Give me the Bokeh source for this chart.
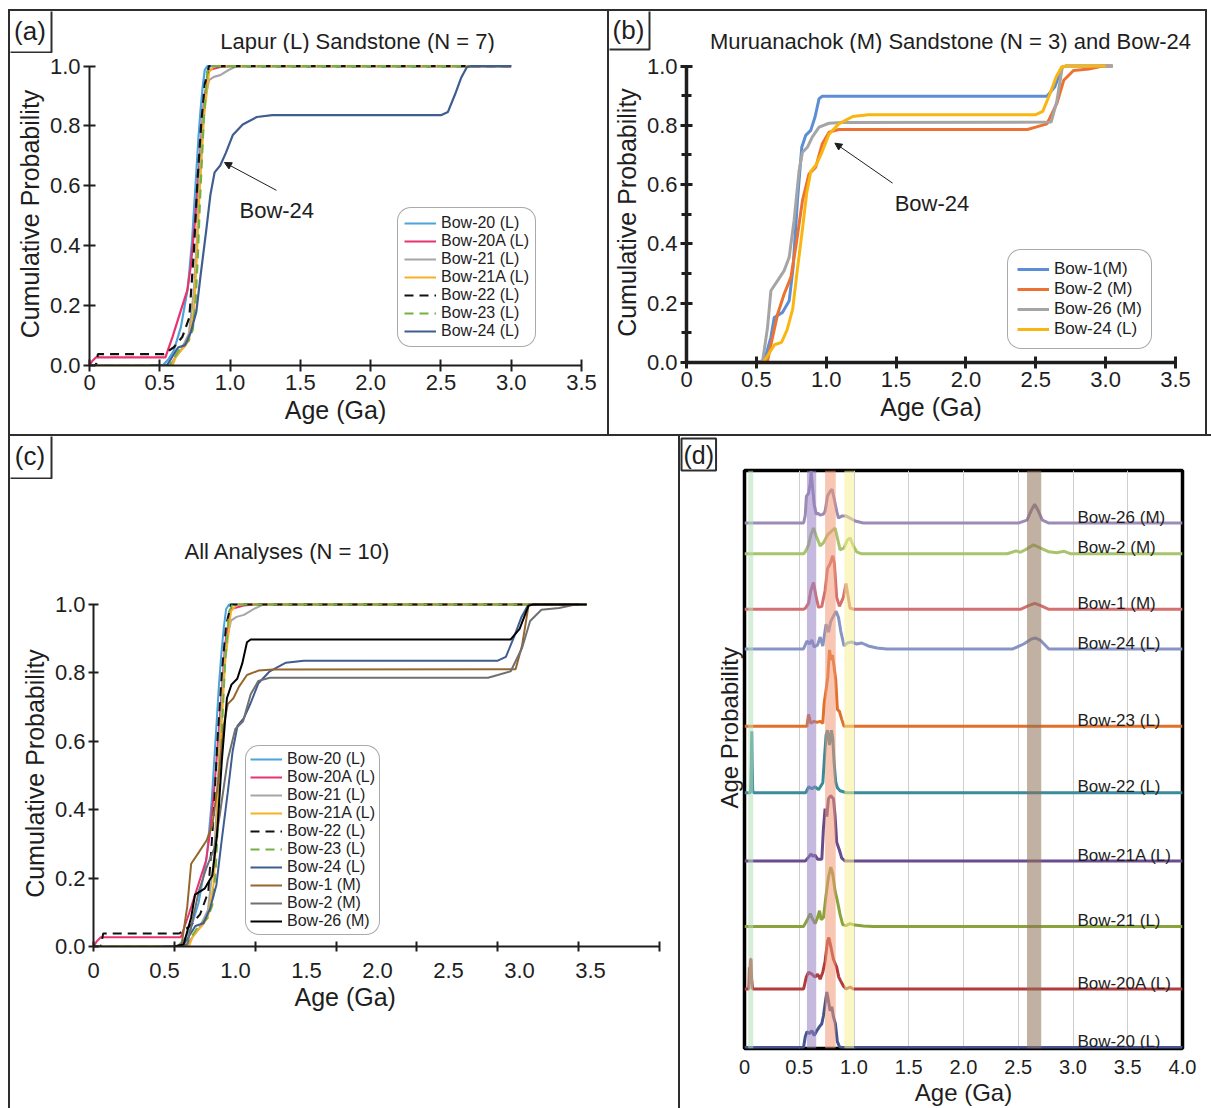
from bokeh.plotting import figure
from bokeh.layouts import row, column
from bokeh.models import (Range1d, LinearAxis, FixedTicker, Legend, LegendItem, Title,
                          Label, Arrow, NormalHead, Spacer, CustomJSTickFormatter)
from bokeh.core.properties import value
from bokeh.embed import file_html
from bokeh.resources import INLINE

FONT = "Liberation Sans"
INK = "#1e1e1e"
RULE = "#2e2e2e"

# ---------------- tick labels ----------------
AGE_TICKS = [0, 0.5, 1.0, 1.5, 2.0, 2.5, 3.0, 3.5]
AGE_TICK_LABELS = ["0", "0.5", "1.0", "1.5", "2.0", "2.5", "3.0", "3.5"]
PDP_TICKS = [0, 0.5, 1.0, 1.5, 2.0, 2.5, 3.0, 3.5, 4.0]
PDP_TICK_LABELS = ["0", "0.5", "1.0", "1.5", "2.0", "2.5", "3.0", "3.5", "4.0"]
PROB_TICKS = [0.0, 0.2, 0.4, 0.6, 0.8, 1.0]
PROB_TICK_LABELS = ["0.0", "0.2", "0.4", "0.6", "0.8", "1.0"]
PROB_MINOR = [0.1, 0.3, 0.5, 0.7, 0.9]

# ---------------- cumulative probability curves (age in Ga) ----------------
bow20_age = [0.0, 0.52, 0.56, 0.6, 0.65, 0.7, 0.73, 0.755, 0.775, 0.79, 0.805, 0.82, 0.838, 3.0]
bow20_cdf = [0.0, 0.0, 0.02, 0.05, 0.128, 0.26, 0.42, 0.608, 0.76, 0.853, 0.93, 0.987, 1.0, 1.0]

bow20a_age = [0.0, 0.02, 0.045, 0.54, 0.59, 0.65, 0.695, 0.72, 0.75, 0.78, 0.814, 0.85, 0.93, 1.0, 3.0]
bow20a_cdf = [0.0, 0.015, 0.027, 0.027, 0.095, 0.184, 0.25, 0.33, 0.48, 0.663, 0.886, 0.987, 0.997, 1.0, 1.0]

bow21_age = [0.0, 0.57, 0.6, 0.65, 0.707, 0.743, 0.765, 0.78, 0.8, 0.82, 0.85, 0.885, 0.93, 0.99, 1.05, 3.0]
bow21_cdf = [0.0, 0.0, 0.02, 0.05, 0.106, 0.25, 0.43, 0.608, 0.78, 0.886, 0.953, 0.964, 0.97, 0.987, 1.0, 1.0]

bow21a_age = [0.0, 0.59, 0.613, 0.64, 0.672, 0.707, 0.743, 0.765, 0.78, 0.814, 0.85, 0.885, 3.0]
bow21a_cdf = [0.0, 0.0, 0.028, 0.045, 0.061, 0.084, 0.184, 0.38, 0.55, 0.83, 0.98, 1.0, 1.0]

bow22_age = [0.0, 0.045, 0.06, 0.53, 0.6, 0.66, 0.71, 0.743, 0.767, 0.795, 0.82, 0.85, 3.0]
bow22_cdf = [0.0, 0.0, 0.038, 0.038, 0.061, 0.095, 0.16, 0.385, 0.608, 0.81, 0.94, 1.0, 1.0]

bow23_age = [0.0, 0.57, 0.59, 0.65, 0.707, 0.735, 0.755, 0.772, 0.786, 0.814, 0.838, 0.86, 3.0]
bow23_cdf = [0.0, 0.0, 0.017, 0.061, 0.084, 0.12, 0.217, 0.38, 0.552, 0.83, 0.98, 1.0, 1.0]

bow24_age = [0.43, 0.55, 0.59, 0.63, 0.68, 0.72, 0.76, 0.79, 0.83, 0.86, 0.89, 0.93, 0.97, 1.02,
             1.09, 1.19, 1.3, 2.5, 2.55, 2.6, 2.645, 2.685, 2.72, 3.0]
bow24_cdf = [0.0, 0.0, 0.03, 0.06, 0.068, 0.11, 0.18, 0.3, 0.45, 0.57, 0.645, 0.668, 0.71, 0.77,
             0.805, 0.83, 0.836, 0.836, 0.847, 0.905, 0.962, 0.997, 1.0, 1.0]

bow1_age = [0.5, 0.557, 0.604, 0.628, 0.687, 0.735, 0.763, 0.794, 0.825, 0.853, 0.889, 0.92, 0.949,
            0.972, 1.0, 2.58, 2.635, 2.69, 2.72, 3.05]
bow1_cdf = [0.0, 0.006, 0.085, 0.152, 0.169, 0.208, 0.321, 0.546, 0.726, 0.766, 0.783, 0.828, 0.89,
            0.898, 0.898, 0.898, 0.929, 0.997, 1.0, 1.0]

bow2_age = [0.5, 0.58, 0.616, 0.652, 0.699, 0.747, 0.782, 0.83, 0.877, 0.925, 0.972, 1.02, 1.09,
            2.44, 2.5, 2.58, 2.65, 2.7, 2.77, 2.88, 2.98, 3.05]
bow2_cdf = [0.0, 0.006, 0.085, 0.163, 0.231, 0.287, 0.389, 0.546, 0.636, 0.659, 0.738, 0.777, 0.786,
            0.786, 0.794, 0.805, 0.873, 0.952, 0.985, 0.99, 1.0, 1.0]

bow26_age = [0.5, 0.545, 0.58, 0.604, 0.652, 0.699, 0.735, 0.77, 0.806, 0.83, 0.865, 0.9, 0.949,
             1.02, 1.11, 2.61, 2.65, 2.69, 2.72, 3.05]
bow26_cdf = [0.0, 0.006, 0.118, 0.242, 0.276, 0.31, 0.355, 0.479, 0.648, 0.709, 0.726, 0.76, 0.794,
             0.807, 0.81, 0.811, 0.88, 0.997, 1.0, 1.0]

# ---------------- age probability curves, panel (d) ----------------
pdp_names = ["Bow-26 (M)", "Bow-2 (M)", "Bow-1 (M)", "Bow-24 (L)", "Bow-23 (L)",
             "Bow-22 (L)", "Bow-21A (L)", "Bow-21 (L)", "Bow-20A (L)", "Bow-20 (L)"]
pdp_stack = [530, 499, 443, 403, 325, 258, 189, 123, 60, 1]   # stacking offset of each curve

pdp_bow26_age = [0, 0.54, 0.555, 0.565, 0.585, 0.6, 0.609, 0.618, 0.636, 0.655, 0.67, 0.69, 0.72,
                 0.736, 0.758, 0.782, 0.8, 0.818, 0.842, 0.858, 0.888, 0.93, 0.979, 1.01, 1.085,
                 2.5, 2.58, 2.62, 2.65, 2.68, 2.72, 2.78, 4.0]
pdp_bow26_p = [0, 0, 8, 27, 30, 40, 52, 40, 19, 9, 10, 8, 9, 12, 27, 32, 34, 25, 12, 5, 7, 7, 4,
               2, 0, 0, 3, 13, 19, 13, 3, 0, 0]
pdp_bow2_age = [0, 0.54, 0.555, 0.585, 0.606, 0.63, 0.655, 0.691, 0.721, 0.758, 0.797, 0.827, 0.848,
                0.873, 0.909, 0.94, 0.964, 0.994, 1.024, 1.07, 2.4, 2.48, 2.52, 2.58, 2.64, 2.7,
                2.78, 2.85, 2.92, 2.98, 4.0]
pdp_bow2_p = [0, 0, 2, 9, 19, 26, 18, 8, 11, 19, 23, 26, 16, 4, 6, 14, 16, 8, 2, 0, 0, 3, 1.5, 5,
              9, 6, 2, 1, 2.5, 0, 0]
pdp_bow1_age = [0, 0.54, 0.555, 0.585, 0.606, 0.63, 0.655, 0.676, 0.706, 0.736, 0.758, 0.782, 0.806,
                0.821, 0.842, 0.867, 0.903, 0.927, 0.948, 0.964, 1.0, 2.52, 2.6, 2.65, 2.7, 2.78, 4.0]
pdp_bow1_p = [0, 0, 1, 6, 19, 27, 12, 2, 3, 19, 41, 46, 54, 46, 12, 3, 12, 26, 12, 1, 0, 0, 4, 6,
              4, 0, 0]
pdp_bow24_age = [0, 0.539, 0.57, 0.594, 0.615, 0.636, 0.667, 0.691, 0.715, 0.745, 0.767, 0.788,
                 0.812, 0.836, 0.858, 0.879, 0.909, 0.939, 0.979, 1.024, 1.07, 1.13, 1.21, 1.3,
                 2.45, 2.55, 2.62, 2.66, 2.7, 2.78, 4.0]
pdp_bow24_p = [0, 0, 8, 5, 9, 2, 4, 12, 3, 25, 17, 28, 33, 38, 32, 18, 3, 6, 7, 5, 6, 3, 1, 0, 0,
               5, 10, 11, 9, 0, 0]
pdp_bow23_age = [0, 0.57, 0.585, 0.606, 0.636, 0.661, 0.691, 0.715, 0.727, 0.745, 0.761, 0.776,
                 0.791, 0.803, 0.818, 0.833, 0.848, 0.867, 0.888, 0.909, 4.0]
pdp_bow23_p = [0, 0, 12, 3, 5, 4, 5, 3, 23, 37, 50, 77, 67, 72, 60, 47, 17, 15, 7, 0, 0]
pdp_bow22_age = [0, 0.055, 0.062, 0.066, 0.07, 0.075, 0.085, 0.56, 0.585, 0.615, 0.645, 0.676,
                 0.715, 0.73, 0.745, 0.758, 0.776, 0.794, 0.806, 0.818, 0.833, 0.848, 0.873, 0.93, 4.0]
pdp_bow22_p = [0, 0, 30, 62, 30, 2, 0, 0, 6, 4, 6, 3, 10, 35, 58, 63, 48, 63, 55, 31, 11, 5, 2, 0, 0]
pdp_bow21a_age = [0, 0.555, 0.585, 0.606, 0.624, 0.645, 0.667, 0.706, 0.721, 0.736, 0.752, 0.767,
                  0.788, 0.812, 0.827, 0.842, 0.867, 0.888, 0.92, 4.0]
pdp_bow21a_p = [0, 0, 4, 7, 5, 6, 2, 2, 33, 53, 45, 63, 66, 63, 46, 19, 11, 3, 0, 0]
pdp_bow21_age = [0, 0.539, 0.57, 0.6, 0.624, 0.645, 0.667, 0.685, 0.7, 0.721, 0.745, 0.767, 0.788,
                 0.806, 0.827, 0.848, 0.873, 0.897, 0.927, 0.964, 1.009, 1.085, 1.176, 4.0]
pdp_bow21_p = [0, 0, 6, 13, 7, 3, 9, 16, 7, 9, 32, 50, 60, 53, 36, 26, 12, 2, 1, 3, 1.5, 0.5, 0, 0]
pdp_bow20a_age = [0, 0.04, 0.045, 0.05, 0.055, 0.06, 0.065, 0.075, 0.54, 0.564, 0.585, 0.615, 0.645,
                  0.667, 0.691, 0.715, 0.736, 0.758, 0.77, 0.788, 0.812, 0.842, 0.861, 0.879, 0.903,
                  0.927, 0.964, 0.994, 4.0]
pdp_bow20a_p = [0, 0, 22, 15, 30, 30, 10, 0, 0, 12, 17, 15, 12, 15, 10, 17, 28, 48, 52, 43, 30, 22,
                12, 8, 3, 0, 2, 0, 0]
pdp_bow20_age = [0, 0.539, 0.555, 0.57, 0.594, 0.615, 0.636, 0.661, 0.685, 0.706, 0.721, 0.736,
                 0.752, 0.767, 0.782, 0.797, 0.812, 0.83, 0.848, 0.867, 0.888, 4.0]
pdp_bow20_p = [0, 0, 11, 16, 14, 17, 12, 17, 21, 24, 32, 44, 56, 47, 37, 41, 31, 24, 6, 1, 0, 0]

# highlighted age bands in panel (d)
band_start = [0.034, 0.57, 0.736, 0.912, 2.58]
band_end = [0.08, 0.655, 0.833, 1.0, 2.71]
band_colors = ["#b4dfb6", "#9582c3", "#f09976", "#f8f096", "#8e7158"]

# ---------------- series tables ----------------
A_SERIES = [
    ("Bow-20 (L)", bow20_age, bow20_cdf, "#4da3dc", "solid"),
    ("Bow-20A (L)", bow20a_age, bow20a_cdf, "#e8336e", "solid"),
    ("Bow-21 (L)", bow21_age, bow21_cdf, "#a6a6a6", "solid"),
    ("Bow-21A (L)", bow21a_age, bow21a_cdf, "#f7b126", "solid"),
    ("Bow-22 (L)", bow22_age, bow22_cdf, "#111111", "9 6"),
    ("Bow-23 (L)", bow23_age, bow23_cdf, "#76b043", "9 6"),
    ("Bow-24 (L)", bow24_age, bow24_cdf, "#3f5d8e", "solid"),
]
B_SERIES = [
    ("Bow-1(M)", bow1_age, bow1_cdf, "#5b8ed6"),
    ("Bow-2 (M)", bow2_age, bow2_cdf, "#ed7232"),
    ("Bow-26 (M)", bow26_age, bow26_cdf, "#a5a5a5"),
    ("Bow-24 (L)", bow24_age, bow24_cdf, "#f9b511"),
]
# panel (c): the Muruanachok curves with the colours/labels as drawn in the panel
C_SERIES = A_SERIES + [
    ("Bow-1 (M)", bow26_age, bow26_cdf, "#94672f", "solid"),
    ("Bow-2 (M)", bow2_age, bow2_cdf, "#707070", "solid"),
    ("Bow-26 (M)", bow1_age, bow1_cdf, "#000000", "solid"),
]
D_SERIES = [
    (pdp_bow26_age, pdp_bow26_p, "#9c8bb5"),
    (pdp_bow2_age, pdp_bow2_p, "#a9c46c"),
    (pdp_bow1_age, pdp_bow1_p, "#d4706f"),
    (pdp_bow24_age, pdp_bow24_p, "#8794c4"),
    (pdp_bow23_age, pdp_bow23_p, "#e2702a"),
    (pdp_bow22_age, pdp_bow22_p, "#3b8b9b"),
    (pdp_bow21a_age, pdp_bow21a_p, "#6a4b8c"),
    (pdp_bow21_age, pdp_bow21_p, "#8aa33a"),
    (pdp_bow20a_age, pdp_bow20a_p, "#b23b3b"),
    (pdp_bow20_age, pdp_bow20_p, "#475690"),
]


def no_align(p):
    try:
        p.frame_align = False
    except Exception:
        pass


def label_formatter(tick_vals, tick_text):
    return CustomJSTickFormatter(
        args=dict(tvals=tick_vals, ttext=tick_text),
        code="for (let i = 0; i < tvals.length; i++) { if (Math.abs(tvals[i] - tick) < 1e-9) return ttext[i]; } return '';")


def cdf_fig(w, h, mbl, mbr, mbt, mbb):
    p = figure(width=w, height=h, x_range=Range1d(0, 3.5), y_range=Range1d(0, 1.012),
               output_backend="svg", toolbar_location=None,
               min_border_left=mbl, min_border_right=mbr, min_border_top=mbt, min_border_bottom=mbb)
    no_align(p)
    p.outline_line_color = None
    p.xgrid.visible = False
    p.ygrid.visible = False
    p.background_fill_color = "white"
    p.border_fill_color = "white"
    p.xaxis.ticker = FixedTicker(ticks=AGE_TICKS)
    p.xaxis.formatter = label_formatter(AGE_TICKS, AGE_TICK_LABELS)
    p.yaxis.ticker = FixedTicker(ticks=PROB_TICKS)
    p.yaxis.formatter = label_formatter(PROB_TICKS, PROB_TICK_LABELS)
    p.yaxis.bounds = (0, 1)
    return p


def strip_fig(w, h):
    """Header strip above a panel: holds the boxed panel letter and the panel heading."""
    s = figure(width=w, height=h, x_range=Range1d(0, w), y_range=Range1d(0, h),
               output_backend="svg", toolbar_location=None, min_border=0)
    no_align(s)
    s.axis.visible = False
    s.grid.visible = False
    s.outline_line_color = None
    return s


def letter_box(s, left, right, bottom, top, txt):
    s.quad(left=[left], right=[right], bottom=[bottom], top=[top], fill_color="white",
           line_color=RULE, line_width=2)
    s.text(x=[(left + right) / 2], y=[(bottom + top) / 2], text=[txt], text_font=value(FONT),
           text_font_size="26px", text_color=INK, text_align="center", text_baseline="middle")


def heading(s, x, y, txt):
    s.text(x=[x], y=[y], text=[txt], text_font=value(FONT), text_font_size="22px",
           text_color=INK, text_align="center", text_baseline="middle")


def style_axis(ax, lw, tw, tl):
    ax.axis_line_color = INK
    ax.axis_line_width = lw
    ax.major_tick_line_color = INK
    ax.major_tick_line_width = tw
    ax.major_tick_in = tl
    ax.major_tick_out = tl
    ax.minor_tick_line_color = None
    ax.major_label_text_font = FONT
    ax.major_label_text_font_size = "22px"
    ax.major_label_text_color = INK
    ax.axis_label_text_font = FONT
    ax.axis_label_text_font_size = "25px"
    ax.axis_label_text_font_style = "normal"
    ax.axis_label_text_color = INK
    ax.major_label_standoff = 3
    ax.axis_label_standoff = 3


def text_label(p, x, y, txt, size="22px", align="left", baseline="alphabetic"):
    p.add_layout(Label(x=x, y=y, text=txt, text_font=FONT, text_font_size=size,
                       text_color=INK, text_align=align, text_baseline=baseline))


def make_legend(p, items, loc, spacing, pad, size):
    lg = Legend(items=items, location=loc, margin=0, padding=pad, spacing=spacing,
                label_text_font=FONT, label_text_font_size=size, label_text_color=INK,
                label_height=16, glyph_height=16, glyph_width=32, label_standoff=5,
                border_line_color="#555555", border_line_width=1,
                background_fill_color="white", background_fill_alpha=1.0)
    try:
        lg.border_radius = 14
    except Exception:
        pass
    p.add_layout(lg, "center")


def title(text, align, offset, standoff, size, **kw):
    return Title(text=text, align=align, offset=offset, standoff=standoff, text_font=FONT,
                 text_font_size=size, text_font_style="normal", text_color=INK, **kw)


# ---------------- panel (a) ----------------
stripA = strip_fig(597, 42)
letter_box(stripA, -2, 41, 1, 44, "(a)")
heading(stripA, 347, 12, "Lapur (L) Sandstone (N = 7)")

pA = cdf_fig(597, 381, 79, 26, 9, 69)
for ax in (pA.xaxis[0], pA.yaxis[0]):
    style_axis(ax, 2, 2, 6)
pA.xaxis.axis_label = "Age (Ga)"
pA.yaxis.axis_label = "Cumulative Probability"
itemsA = []
for name, ag, cp, col, dash in A_SERIES:
    r = pA.line(ag, cp, line_color=col, line_width=2.2, line_dash=dash)
    itemsA.append(LegendItem(label=name, renderers=[r]))
make_legend(pA, itemsA, (308, 18), 0, 6, "16px")
text_label(pA, 1.067, 0.518, "Bow-24")
pA.add_layout(Arrow(end=NormalHead(size=7, line_color=INK, fill_color=INK),
                    x_start=1.33, y_start=0.585, x_end=0.96, y_end=0.678,
                    line_color=INK, line_width=1))

# ---------------- panel (b) ----------------
stripB = strip_fig(596, 42)
letter_box(stripB, -2, 40, 4, 44, "(b)")
heading(stripB, 341, 12, "Muruanachok (M) Sandstone (N = 3) and Bow-24")

pB = cdf_fig(596, 381, 75, 30, 9, 72)
for ax in (pB.xaxis[0], pB.yaxis[0]):
    style_axis(ax, 3.5, 3, 6)
pB.yaxis.ticker = FixedTicker(ticks=PROB_TICKS, minor_ticks=PROB_MINOR)
pB.yaxis.minor_tick_line_color = INK
pB.yaxis.minor_tick_line_width = 3
pB.yaxis.minor_tick_in = 5
pB.yaxis.minor_tick_out = 5
pB.xaxis.axis_label = "Age (Ga)"
pB.yaxis.axis_label = "Cumulative Probability"
itemsB = []
for name, ag, cp, col in B_SERIES:
    r = pB.line(ag, cp, line_color=col, line_width=3)
    itemsB.append(LegendItem(label=name, renderers=[r]))
make_legend(pB, itemsB, (321, 13), 0, 9, "17px")
text_label(pB, 1.49, 0.537, "Bow-24")
pB.add_layout(Arrow(end=NormalHead(size=7, line_color=INK, fill_color=INK),
                    x_start=1.475, y_start=0.605, x_end=1.062, y_end=0.74,
                    line_color=INK, line_width=1))

# ---------------- panel (c) ----------------
stripC = strip_fig(668, 43)
letter_box(stripC, -2, 41, 1, 46, "(c)")

pC = cdf_fig(668, 629, 83, 19, 121, 162)
for ax in (pC.xaxis[0], pC.yaxis[0]):
    style_axis(ax, 2, 2, 5)
pC.xaxis.major_label_text_font_size = "1px"
pC.xaxis.major_label_text_color = None
pC.xaxis.major_label_standoff = 0
pC.yaxis.axis_label = "Cumulative Probability"
# the printed age labels of this panel sit on a slightly compressed scale
pC.extra_x_ranges = {"labels": Range1d(0, 3.986)}
lab_axis = LinearAxis(x_range_name="labels", ticker=FixedTicker(ticks=AGE_TICKS),
                      formatter=label_formatter(AGE_TICKS, AGE_TICK_LABELS))
lab_axis.axis_line_color = None
lab_axis.major_tick_line_color = None
lab_axis.minor_tick_line_color = None
lab_axis.major_label_text_font = FONT
lab_axis.major_label_text_font_size = "22px"
lab_axis.major_label_text_color = INK
lab_axis.major_label_standoff = 5
pC.add_layout(lab_axis, "below")
pC.add_layout(title("Age (Ga)", "left", 201, 1, "25px"), "below")
pC.add_layout(title("All Analyses (N = 10)", "left", 91, 73, "22px"), "above")
itemsC = []
for name, ag, cp, col, dash in C_SERIES:
    r = pC.line(ag, cp, line_color=col, line_width=2, line_dash=dash)
    itemsC.append(LegendItem(label=name, renderers=[r]))
make_legend(pC, itemsC, (152, 11), 0, 4, "16px")

# ---------------- panel (d) ----------------
pD = figure(width=531, height=672, x_range=Range1d(0, 4), y_range=Range1d(0, 583),
            output_backend="svg", toolbar_location=None,
            min_border_left=64, min_border_right=29, min_border_top=30, min_border_bottom=59)
no_align(pD)
pD.outline_line_color = "black"
pD.outline_line_width = 3.5
pD.background_fill_color = "white"
pD.border_fill_color = "white"
pD.yaxis.visible = False
pD.ygrid.visible = False
pD.xaxis.ticker = FixedTicker(ticks=PDP_TICKS)
pD.xaxis.formatter = label_formatter(PDP_TICKS, PDP_TICK_LABELS)
pD.xgrid.grid_line_color = "#cfcfcf"
pD.xgrid.grid_line_width = 1
xa = pD.xaxis[0]
xa.axis_line_color = None
xa.major_tick_line_color = None
xa.minor_tick_line_color = None
xa.major_label_text_font = FONT
xa.major_label_text_font_size = "20px"
xa.major_label_text_color = INK
xa.major_label_standoff = 5
xa.axis_label = "Age (Ga)"
xa.axis_label_text_font = FONT
xa.axis_label_text_font_size = "24px"
xa.axis_label_text_font_style = "normal"
xa.axis_label_text_color = INK
xa.axis_label_standoff = 2
pD.add_layout(title("Age  Probability", "left", 240, 3, "24px"), "left")
pD.add_layout(title("(d)", "left", -63, 0, "25px", border_line_color=RULE, border_line_width=2,
                    background_fill_color="white", padding=2), "above")

for (ag, pr, col), off in zip(D_SERIES, pdp_stack):
    pD.line(ag, [v + off for v in pr], line_color=col, line_width=3)
pD.quad(left=band_start, right=band_end, bottom=0, top=583, fill_color=band_colors,
        fill_alpha=0.55, line_color=None)
pD.text(x=3.04, y=[o + 6 for o in pdp_stack], text=pdp_names, text_font=value(FONT),
        text_font_size="17px", text_color=INK, text_baseline="alphabetic", text_align="left")


# ---------------- page layout with panel rules ----------------
def rule(w, h):
    return Spacer(width=w, height=h, styles={"background-color": RULE})


def gap(w, h):
    return Spacer(width=w, height=h)


layout = column(
    gap(1211, 9),
    row(gap(8, 2), rule(1199, 2), gap(4, 2)),
    row(gap(8, 423), rule(2, 423), column(stripA, pA), rule(2, 423),
        column(stripB, pB), rule(2, 423), gap(4, 423)),
    row(gap(8, 2), rule(1203, 2)),
    row(gap(8, 672), rule(2, 672), column(stripC, pC), rule(2, 672), pD),
)

open("out.html", "w").write(file_html(layout, INLINE))
